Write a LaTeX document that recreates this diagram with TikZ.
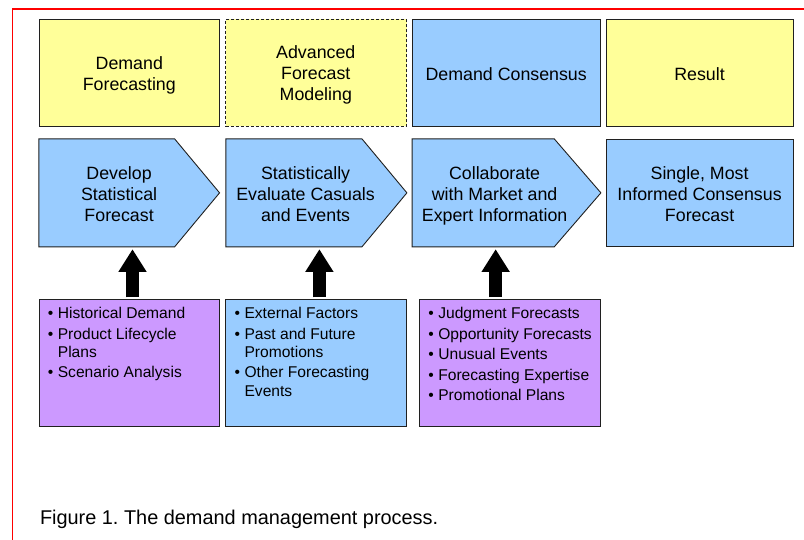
\documentclass[tikz,border=0pt]{standalone}
\usepackage{fontspec}
\setmainfont{Liberation Sans}
\usetikzlibrary{arrows.meta,calc}
\definecolor{ylw}{HTML}{FFFF99}
\definecolor{blu}{HTML}{99CCFF}
\definecolor{prp}{HTML}{CC99FF}
\definecolor{edgec}{HTML}{202020}
\newcommand{\mylines}[1]{\begin{tabular}[t]{@{}c@{}}#1\end{tabular}}
\newcommand{\mylist}[1]{\begin{tabular}[t]{@{}l@{}}#1\end{tabular}}
\newcommand{\bul}{\makebox[10pt][l]{\textbullet}}
\newcommand{\cont}{\hspace*{10pt}}
\frenchspacing
\begin{document}
\begin{tikzpicture}[x=1pt,y=-1pt,
  frame/.style={draw=red, line width=1.8pt},
  topbox/.style={rectangle, draw=edgec, line width=0.9pt, inner sep=0pt, minimum height=106.7pt},
  chevbase/.style={rectangle, inner sep=0pt, minimum height=107.7pt},
  chevline/.style={draw=edgec, line width=0.9pt, fill=blu, line join=miter},
  listbox/.style={rectangle, draw=edgec, line width=0.9pt, inner sep=0pt, minimum height=127.4pt},
  head/.style={inner sep=0pt, anchor=base, text=black, font=\fontsize{17.8}{21}\selectfont},
  list/.style={inner sep=0pt, anchor=base west, text=black, font=\fontsize{15.6}{18.2}\selectfont},
  fat/.style={line width=13pt, draw=black, -{Triangle[width=28.4pt,length=22.4pt,line width=0pt]}, shorten >=2.6pt, shorten <=1.5pt}
]
\useasboundingbox (0,0) rectangle (804,539);
\fill[white] (0,0) rectangle (804,539);
% red frame
\draw[frame] (12.4,545) -- (12.4,9.2) -- (812,9.2);

% top row
\node[topbox, fill=ylw, minimum width=180pt] (t1) at (129,72.7) {};
\node[topbox, fill=ylw, minimum width=181pt, dash pattern=on 3pt off 2pt] (t2) at (316.2,72.7) {};
\node[topbox, fill=blu, minimum width=187.7pt] (t3) at (506.2,72.7) {};
\node[topbox, fill=ylw, minimum width=187pt] (t4) at (699.5,72.7) {};
\node[head] (t1t) at (129.3,69) {\mylines{Demand\\Forecasting}};
\node[head] (t2t) at (315.8,58.3) {\mylines{Advanced\\Forecast\\Modeling}};
\node[head] (t3t) at (506.2,80) {Demand Consensus};
\node[head] (t4t) at (699.5,80) {Result};

% second row
\node[chevbase, minimum width=180.3pt] (c1) at (129.2,192.85) {};
\draw[chevline] (c1.north west) -- ([xshift=-45pt]c1.north east) -- (c1.east) -- ([xshift=-45pt]c1.south east) -- (c1.south west) -- cycle;
\node[chevbase, minimum width=180.7pt] (c2) at (316.35,192.85) {};
\draw[chevline] (c2.north west) -- ([xshift=-45pt]c2.north east) -- (c2.east) -- ([xshift=-45pt]c2.south east) -- (c2.south west) -- cycle;
\node[chevbase, minimum width=188.4pt] (c3) at (506.5,192.85) {};
\draw[chevline] (c3.north west) -- ([xshift=-46.7pt]c3.north east) -- (c3.east) -- ([xshift=-46.7pt]c3.south east) -- (c3.south west) -- cycle;
\node[topbox, fill=blu, minimum width=186.3pt, minimum height=107.7pt] (r4) at (699.85,192.85) {};
\node[head] (c1t) at (119.1,179) {\mylines{Develop\\Statistical\\Forecast}};
\node[head] (c2t) at (305.6,179) {\mylines{Statistically\\Evaluate Casuals\\and Events}};
\node[head] (c3t) at (494.6,179) {\mylines{Collaborate\\with Market and\\Expert Information}};
\node[head] (r4t) at (699.6,179) {\mylines{Single, Most\\Informed Consensus\\Forecast}};

% bottom row
\node[listbox, fill=prp, minimum width=180pt] (b1) at (129,363) {};
\node[listbox, fill=blu, minimum width=181pt] (b2) at (316.2,363) {};
\node[listbox, fill=prp, minimum width=180.7pt] (b3) at (509.65,363) {};
\node[list] (b1t) at ($(b1.north west)+(9.1,20)$) {\mylist{\bul Historical Demand\\[2.2pt] \bul Product Lifecycle\\ \cont Plans\\[2.2pt] \bul Scenario Analysis}};
\node[list] (b2t) at ($(b2.north west)+(9.1,20)$) {\mylist{\bul External Factors\\[2.2pt] \bul Past and Future\\ \cont Promotions\\[2.2pt] \bul Other Forecasting\\ \cont Events}};
\node[list] (b3t) at ($(b3.north west)+(9.3,20)$) {\mylist{\bul Judgment Forecasts\\[2.2pt] \bul Opportunity Forecasts\\[2.2pt] \bul Unusual Events\\[2.2pt] \bul Forecasting Expertise\\[2.2pt] \bul Promotional Plans}};

% arrows
\draw[fat] ([xshift=3.5pt]b1.north) -- ([xshift=3.5pt]b1.north |- c1.south);
\draw[fat] ([xshift=3.2pt]b2.north) -- ([xshift=3.2pt]b2.north |- c2.south);
\draw[fat] ([xshift=-14pt]b3.north) -- ([xshift=-14pt]b3.north |- c3.south);

% caption
\node[inner sep=0pt, anchor=base west, text=black, font=\fontsize{19.9}{23}\selectfont] (cap) at (39.8,524.3) {Figure 1. The demand management process.};
\end{tikzpicture}
\end{document}
